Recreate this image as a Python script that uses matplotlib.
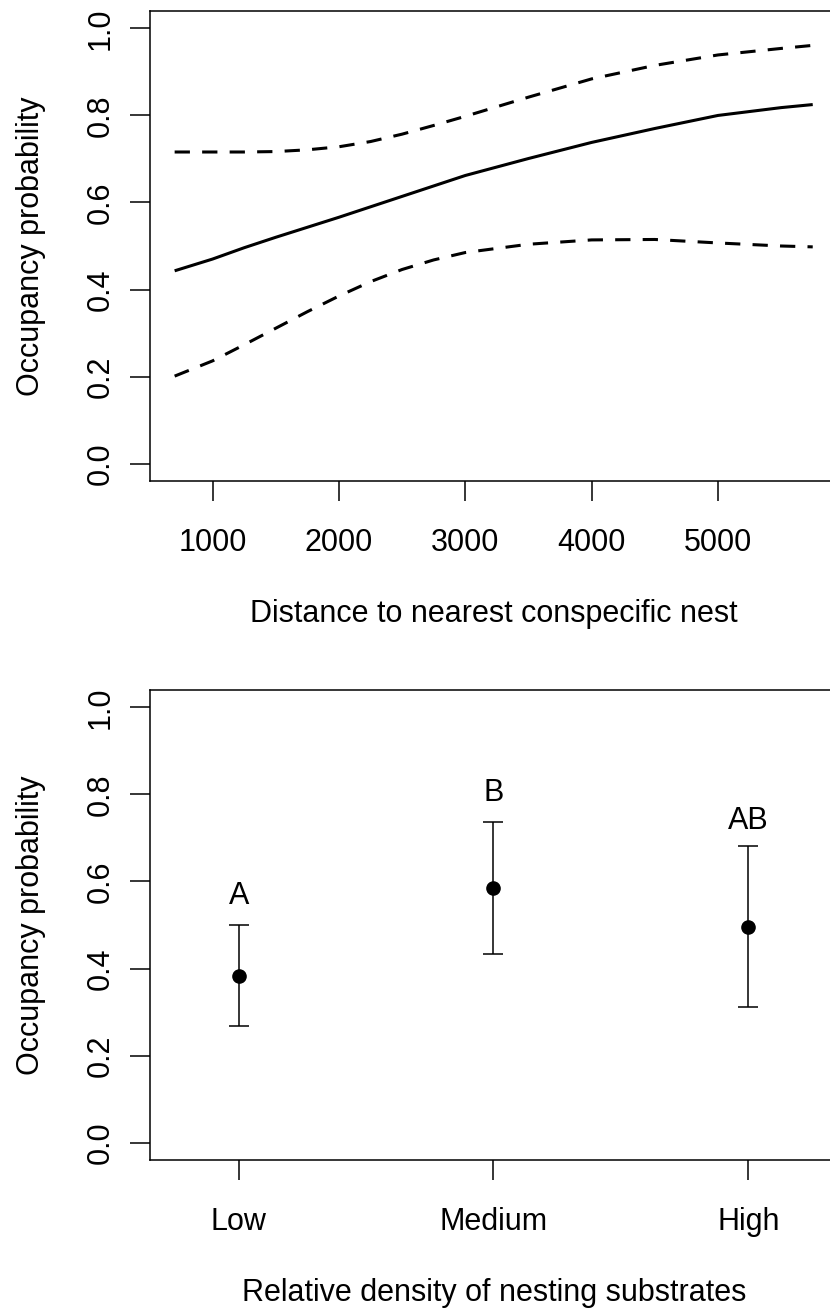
import matplotlib
matplotlib.use("Agg")
import matplotlib.pyplot as plt
import numpy as np

plt.rcParams['font.family'] = ['Liberation Sans', 'DejaVu Sans']

# ---- Top panel data: occupancy vs distance ----
distance = [700, 1000, 1250, 1500, 1750, 2000, 2250, 2500, 2750, 3000, 3500, 4000, 4500, 5000, 5500, 5750]
occ_mean = [0.443, 0.470, 0.496, 0.520, 0.543, 0.566, 0.590, 0.614, 0.638, 0.662, 0.701, 0.738, 0.770, 0.800, 0.818, 0.825]
occ_upper = [0.716, 0.716, 0.716, 0.717, 0.721, 0.728, 0.740, 0.757, 0.777, 0.798, 0.842, 0.884, 0.915, 0.939, 0.954, 0.961]
occ_lower = [0.201, 0.236, 0.273, 0.311, 0.349, 0.385, 0.418, 0.446, 0.468, 0.485, 0.504, 0.514, 0.515, 0.507, 0.500, 0.498]
x_ticks_top = [1000, 2000, 3000, 4000, 5000]

# ---- Bottom panel data: occupancy vs substrate density ----
density_labels = ['Low', 'Medium', 'High']
dens_est = [0.383, 0.586, 0.496]
dens_upper = [0.500, 0.737, 0.682]
dens_lower = [0.269, 0.433, 0.311]
group_letters = ['A', 'B', 'AB']
letter_y = [0.566, 0.803, 0.740]

y_ticks = [0.0, 0.2, 0.4, 0.6, 0.8, 1.0]

W, H = 830, 1310
fig = plt.figure(figsize=(W / 100, H / 100), dpi=100)

def px_axes(left, top, right, bottom):
    return fig.add_axes([left / W, 1 - bottom / H, (right - left) / W, (bottom - top) / H])

FS = 22
LW_AX = 1.1

def style(ax):
    for s in ax.spines.values():
        s.set_linewidth(LW_AX)
        s.set_color('black')
    ax.tick_params(axis='both', length=14.5, width=LW_AX, labelsize=FS, color='black')
    ax.tick_params(axis='x', pad=19)
    ax.tick_params(axis='y', pad=10, labelrotation=90)
    ax.set_yticks(y_ticks)
    ax.set_yticklabels([f"{v:.1f}" for v in y_ticks], va='center')
    ax.set_ylim(-0.04, 1.04)
    ax.set_ylabel('Occupancy probability', fontsize=FS, labelpad=29)

# Top panel
ax1 = px_axes(150, 11, 838, 481)
ax1.plot(distance, occ_mean, color='black', lw=2.2, solid_capstyle='butt')
ax1.plot(distance, occ_upper, color='black', lw=2.2, linestyle=(0, (5, 4)))
ax1.plot(distance, occ_lower, color='black', lw=2.2, linestyle=(0, (5, 4)))
ax1.set_xlim(505, 5950)
ax1.set_xticks(x_ticks_top)
ax1.set_xticklabels([str(v) for v in x_ticks_top])
style(ax1)
ax1.set_xlabel('Distance to nearest conspecific nest', fontsize=FS, labelpad=30)

# Bottom panel
ax2 = px_axes(150, 690, 838, 1160)
xpos = np.arange(1, len(density_labels) + 1)
est = np.array(dens_est)
yerr = np.vstack([est - np.array(dens_lower), np.array(dens_upper) - est])
ax2.errorbar(xpos, est, yerr=yerr, fmt='o', color='black', ms=9.5,
             ecolor='black', elinewidth=1.1, capsize=7.5, capthick=1.1)
for x, ly, t in zip(xpos, letter_y, group_letters):
    ax2.text(x, ly, t, ha='center', va='center', fontsize=FS)
ax2.set_xlim(0.652, 3.352)
ax2.set_xticks(xpos)
ax2.set_xticklabels(density_labels)
style(ax2)
ax2.set_xlabel('Relative density of nesting substrates', fontsize=FS, labelpad=30)

fig.savefig('out.png', dpi=100)
